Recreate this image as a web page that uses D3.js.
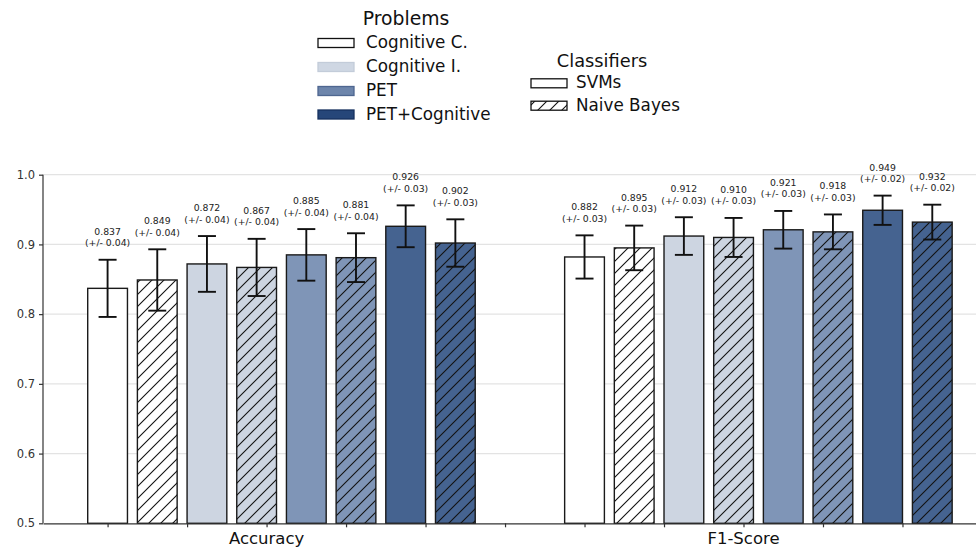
<!DOCTYPE html>
<html>
<head>
<meta charset="utf-8">
<script src="https://cdn.jsdelivr.net/npm/d3@7/dist/d3.min.js"></script>
<style>
  html, body { margin: 0; padding: 0; background: #fff; }
  svg { display: block; font-family: "DejaVu Sans", sans-serif; }
</style>
</head>
<body>
<svg id="chart" width="976" height="547"></svg>
<script>
// ---- data ----
const metrics = ["Accuracy", "F1-Score"];
const problems = ["Cognitive C.", "Cognitive I.", "PET", "PET+Cognitive"];
const classifiers = ["SVMs", "Naive Bayes"];
// bar order within a metric: (problem, classifier) pairs
const accuracyValues = [0.837, 0.849, 0.872, 0.867, 0.885, 0.881, 0.926, 0.902];
const accuracyErr    = [0.041, 0.044, 0.040, 0.041, 0.037, 0.035, 0.030, 0.034];
const accuracyErrLabel = ["0.04", "0.04", "0.04", "0.04", "0.04", "0.04", "0.03", "0.03"];
const f1Values = [0.882, 0.895, 0.912, 0.910, 0.921, 0.918, 0.949, 0.932];
const f1Err    = [0.031, 0.032, 0.027, 0.028, 0.027, 0.025, 0.021, 0.025];
const f1ErrLabel = ["0.03", "0.03", "0.03", "0.03", "0.03", "0.03", "0.02", "0.02"];
const yTicks = [0.5, 0.6, 0.7, 0.8, 0.9, 1.0];

// ---- styles ----
const barColors = ["#ffffff", "#cdd5e1", "#7f95b7", "#456390"];
const legendFill = ["#ffffff", "#cfd7e3", "#6d85ab", "#264679"];
const legendEdge = ["#111111", "#c3ccd9", "#4e6690", "#16315f"];

const svg = d3.select("#chart");

// x scale in "bar units"
const groupOffset = 9.6;
const x = d3.scaleLinear().domain([-1.3, 17.5]).range([43, 977]);
const y = d3.scaleLinear().domain([0.5, 1.0]).range([523.3, 174.7]);
const barW = 0.8;

// patterns
const defs = svg.append("defs");
const pat = defs.append("pattern").attr("id", "hatch")
  .attr("patternUnits", "userSpaceOnUse").attr("width", 12).attr("height", 12);
pat.append("path").attr("d", "M-3,3 L3,-3 M0,12 L12,0 M9,15 L15,9")
  .attr("stroke", "#111").attr("stroke-width", 1.1).attr("fill", "none");

// gridlines
svg.append("g").selectAll("line").data(yTicks.slice(1)).join("line")
  .attr("x1", 43).attr("x2", 976)
  .attr("y1", d => y(d)).attr("y2", d => y(d))
  .attr("stroke", "#e3e3e3").attr("stroke-width", 1.2);

// build bar records
const bars = [];
const series = [
  {vals: accuracyValues, err: accuracyErr, lab: accuracyErrLabel},
  {vals: f1Values, err: f1Err, lab: f1ErrLabel}
];
metrics.forEach((m, g) => {
  series[g].vals.forEach((v, i) => {
    bars.push({
      metric: m,
      problem: Math.floor(i / 2),
      classifier: i % 2,
      u: g * groupOffset + i,
      v: v, e: series[g].err[i], lab: series[g].lab[i]
    });
  });
});

const gBars = svg.append("g");
gBars.selectAll("rect.bar").data(bars).join("rect").attr("class", "bar")
  .attr("x", d => x(d.u - barW / 2))
  .attr("width", d => x(d.u + barW / 2) - x(d.u - barW / 2))
  .attr("y", d => y(d.v))
  .attr("height", d => y(0.5) - y(d.v))
  .attr("fill", d => barColors[d.problem]);
gBars.selectAll("rect.hatch").data(bars.filter(d => d.classifier === 1)).join("rect").attr("class", "hatch")
  .attr("x", d => x(d.u - barW / 2))
  .attr("width", d => x(d.u + barW / 2) - x(d.u - barW / 2))
  .attr("y", d => y(d.v))
  .attr("height", d => y(0.5) - y(d.v))
  .attr("fill", "url(#hatch)");
gBars.selectAll("rect.edge").data(bars).join("rect").attr("class", "edge")
  .attr("x", d => x(d.u - barW / 2))
  .attr("width", d => x(d.u + barW / 2) - x(d.u - barW / 2))
  .attr("y", d => y(d.v))
  .attr("height", d => y(0.5) - y(d.v))
  .attr("fill", "none").attr("stroke", "#1a1a1a").attr("stroke-width", 1.4);

// error bars
const gErr = svg.append("g").attr("stroke", "#111").attr("stroke-width", 1.9);
gErr.selectAll("line.v").data(bars).join("line")
  .attr("x1", d => x(d.u)).attr("x2", d => x(d.u))
  .attr("y1", d => y(d.v - d.e)).attr("y2", d => y(d.v + d.e));
gErr.selectAll("line.t").data(bars).join("line")
  .attr("x1", d => x(d.u) - 9).attr("x2", d => x(d.u) + 9)
  .attr("y1", d => y(d.v + d.e)).attr("y2", d => y(d.v + d.e));
gErr.selectAll("line.b").data(bars).join("line")
  .attr("x1", d => x(d.u) - 9).attr("x2", d => x(d.u) + 9)
  .attr("y1", d => y(d.v - d.e)).attr("y2", d => y(d.v - d.e));

// value labels
const gLab = svg.append("g").attr("font-size", 9.3).attr("fill", "#222").attr("text-anchor", "middle");
gLab.selectAll("text.v").data(bars).join("text")
  .attr("x", d => x(d.u)).attr("y", d => y(d.v + d.e) - 25)
  .text(d => d.v.toFixed(3));
gLab.selectAll("text.e").data(bars).join("text")
  .attr("x", d => x(d.u)).attr("y", d => y(d.v + d.e) - 13.5)
  .text(d => "(+/- " + d.lab + ")");

// y axis
const yAxis = d3.axisLeft(y).tickValues(yTicks).tickFormat(d3.format(".1f")).tickSize(4).tickPadding(4);
const gy = svg.append("g").attr("transform", "translate(43,0)").call(yAxis);
gy.select(".domain").attr("stroke", "#333").attr("stroke-width", 1.2).attr("d", `M0,${y(0.5)}V${y(1.0)}`);
gy.selectAll(".tick line").attr("stroke", "#333").attr("stroke-width", 1.2);
gy.selectAll(".tick text").attr("font-size", 11.5).attr("fill", "#333").attr("font-family", "DejaVu Sans");

// x axis: ticks every 1.6 units, labels at group middles
const xTickVals = d3.range(0, 11).map(k => k * 1.6);
const labelPos = {"Accuracy": 3.2, "F1-Score": 3.2 + groupOffset};
const xAxis = d3.axisBottom(x).tickValues(xTickVals).tickFormat("").tickSize(4).tickSizeOuter(0);
const gx = svg.append("g").attr("transform", `translate(0,${y(0.5)})`).call(xAxis);
gx.select(".domain").attr("stroke", "#333").attr("stroke-width", 1.2);
gx.selectAll(".tick line").attr("stroke", "#333").attr("stroke-width", 1.2);
svg.append("g").selectAll("text").data(metrics).join("text")
  .attr("x", d => x(labelPos[d])).attr("y", 543.5)
  .attr("text-anchor", "middle").attr("font-size", 16.5).attr("fill", "#111")
  .text(d => d);

// legend: Problems
const gL1 = svg.append("g");
gL1.append("text").attr("x", 406).attr("y", 25).attr("text-anchor", "middle")
  .attr("font-size", 18.8).attr("fill", "#111").text("Problems");
const probBase = [48, 72, 96, 119.5];
problems.forEach((p, i) => {
  gL1.append("rect").attr("x", 318).attr("y", probBase[i] - 9.5).attr("width", 36).attr("height", 9)
    .attr("fill", legendFill[i]).attr("stroke", legendEdge[i]).attr("stroke-width", 1.3);
  gL1.append("text").attr("x", 366).attr("y", probBase[i]).attr("font-size", 16.8)
    .attr("fill", "#111").text(p);
});

// legend: Classifiers
const gL2 = svg.append("g");
gL2.append("text").attr("x", 602).attr("y", 67).attr("text-anchor", "middle")
  .attr("font-size", 17.8).attr("fill", "#111").text("Classifiers");
const clsBase = [88.3, 110.7];
classifiers.forEach((c, i) => {
  gL2.append("rect").attr("x", 531).attr("y", clsBase[i] - 9.5).attr("width", 36).attr("height", 9)
    .attr("fill", "#fff");
  if (i === 1) {
    gL2.append("rect").attr("x", 531).attr("y", clsBase[i] - 9.5).attr("width", 36).attr("height", 9)
      .attr("fill", "url(#hatch)");
  }
  gL2.append("rect").attr("x", 531).attr("y", clsBase[i] - 9.5).attr("width", 36).attr("height", 9)
    .attr("fill", "none").attr("stroke", "#111").attr("stroke-width", 1.3);
  gL2.append("text").attr("x", 576).attr("y", clsBase[i]).attr("font-size", 16.8)
    .attr("fill", "#111").text(c);
});
</script>
</body>
</html>
